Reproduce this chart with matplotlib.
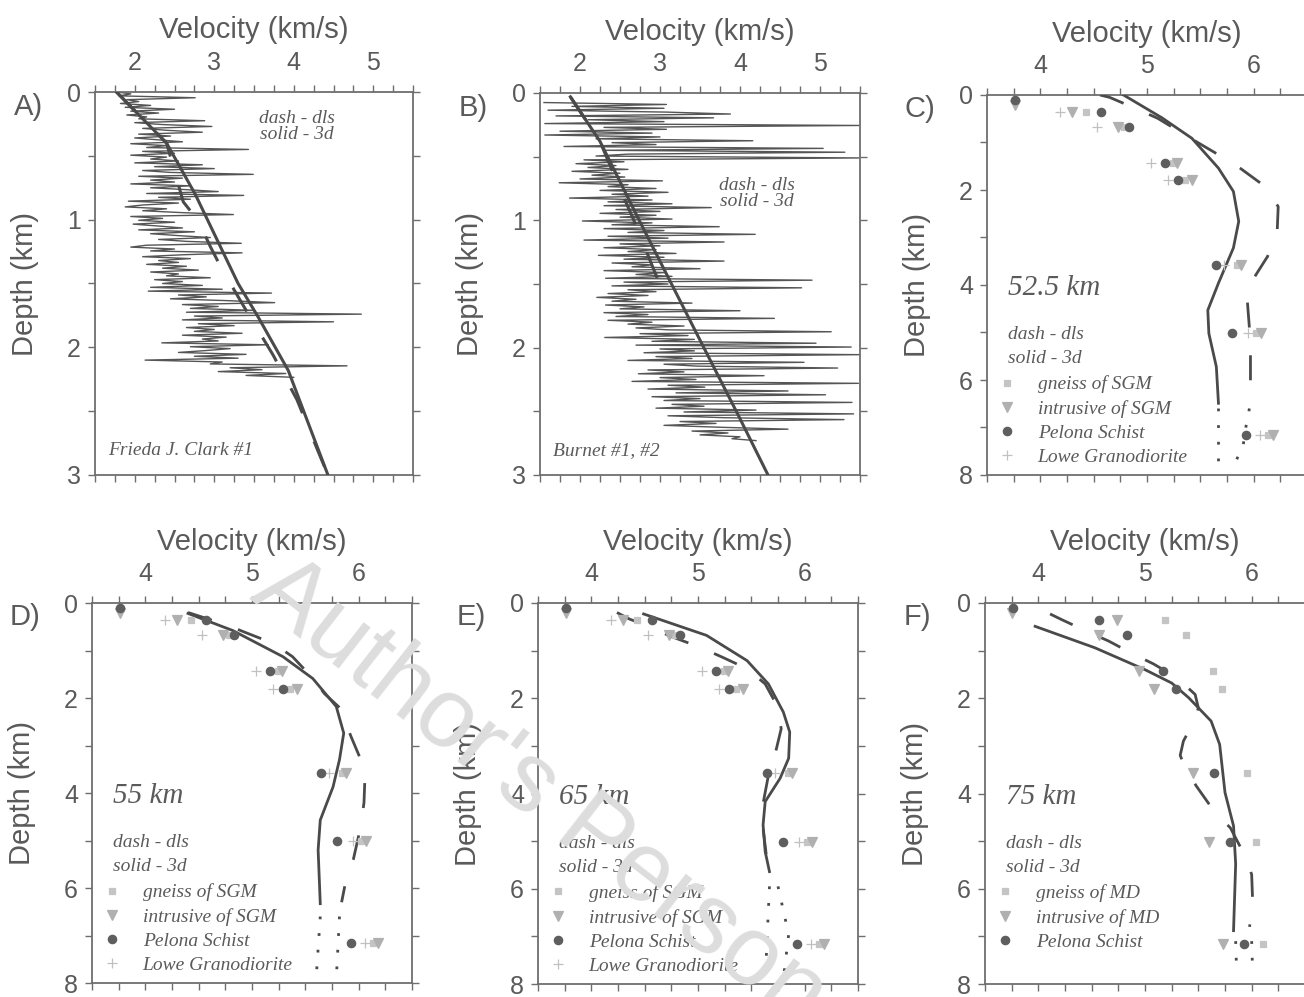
import matplotlib
matplotlib.use("Agg")
import matplotlib.pyplot as plt
import numpy as np
from matplotlib.ticker import MultipleLocator
from matplotlib.lines import Line2D
from matplotlib.font_manager import FontProperties

# ---------------- data (velocity km/s, depth km) ----------------
# sonic logs, regular sampling from a top depth
LOG_STEP = 0.015
log_a_top = 0.0
log_a_v = [1.78, 1.95, 1.80, 2.76, 1.90, 2.05, 1.82, 2.20, 1.88, 2.50,
           1.95, 2.30, 1.90, 2.15, 2.05, 2.88, 2.00, 2.35, 2.97, 2.10,
           2.40, 2.85, 2.05, 2.45, 2.00, 2.30, 2.60, 1.95, 2.40, 2.15,
           3.43, 2.10, 2.50, 1.95, 2.40, 2.20, 2.55, 2.00, 2.85, 2.25,
           3.00, 2.10, 2.45, 3.49, 2.05, 2.60, 2.20, 2.50, 1.95, 2.70,
           2.20, 2.65, 3.05, 2.15, 3.37, 2.30, 2.70, 1.92, 2.55, 2.10,
           1.88, 2.40, 2.10, 2.60, 3.24, 1.95, 2.35, 2.05, 2.50, 1.98,
           2.30, 2.60, 2.05, 2.75, 2.20, 2.55, 2.95, 2.30, 2.65, 3.34,
           2.15, 1.95, 2.50, 2.20, 3.35, 2.60, 2.10, 2.70, 2.30, 2.55,
           2.15, 2.65, 2.35, 2.80, 2.20, 2.55, 2.40, 2.95, 2.25, 2.60,
           2.35, 2.85, 2.20, 3.10, 2.17, 3.72, 2.55, 2.90, 2.45, 3.20,
           3.76, 2.60, 3.05, 2.70, 3.50, 2.65, 4.85, 2.75, 3.10, 2.60,
           4.50, 2.80, 3.25, 2.65, 3.00, 2.75, 3.35, 2.60, 3.15, 2.85,
           3.05, 2.34, 3.68, 2.70, 3.20, 2.90, 2.55, 3.40, 2.75, 3.30,
           2.13, 3.10, 2.95, 4.67, 3.20, 3.60, 3.05, 3.90, 3.40, 4.00]

log_b_top = 0.075
log_b_v = [1.55, 3.08, 1.90, 3.05, 1.60, 3.08, 3.88, 1.70, 3.67, 2.10,
           3.05, 1.56, 5.49, 2.30, 3.08, 1.75, 2.90, 1.56, 3.00, 2.20,
           4.16, 2.40, 2.95, 1.80, 5.04, 2.30, 5.31, 2.60, 2.20, 5.49,
           2.05, 2.55, 1.95, 2.45, 2.10, 2.60, 1.90, 2.50, 2.15, 2.56,
           2.00, 3.03, 1.74, 2.60, 2.35, 2.95, 2.25, 3.10, 2.40, 2.85,
           1.87, 2.90, 2.35, 3.15, 2.30, 3.64, 2.45, 3.00, 2.25, 2.95,
           2.50, 3.15, 2.03, 2.90, 2.40, 3.74, 2.30, 3.05, 2.60, 4.19,
           2.35, 3.10, 2.05, 3.80, 2.50, 3.00, 2.30, 2.95, 2.60, 3.20,
           2.23, 3.05, 2.55, 3.80, 2.40, 2.90, 2.65, 3.50, 2.30, 3.06,
           2.70, 3.15, 2.32, 4.90, 2.55, 3.10, 2.40, 4.77, 2.60, 2.95,
           2.35, 2.85, 2.21, 2.70, 2.40, 3.40, 2.32, 2.80, 2.50, 4.00,
           2.30, 2.85, 2.45, 4.43, 2.35, 2.90, 2.60, 3.30, 2.70, 3.10,
           5.14, 2.75, 3.35, 2.31, 3.43, 2.90, 4.95, 2.70, 5.39, 3.00,
           3.43, 2.80, 5.50, 2.95, 3.40, 2.60, 4.80, 3.05, 3.47, 5.22,
           2.85, 3.30, 2.73, 4.30, 3.00, 3.45, 2.65, 5.48, 3.10, 3.56,
           2.85, 4.60, 3.20, 5.07, 2.90, 3.50, 3.05, 5.40, 3.15, 3.55,
           2.95, 4.20, 3.30, 5.42, 3.10, 3.80, 5.30, 3.25, 3.70, 3.05,
           3.75, 4.60, 3.40, 3.85, 3.50, 4.00, 3.90, 4.20]

# model profiles for the wells
a_3d_d = [0.0, 0.40, 0.80, 1.50, 1.76, 2.18, 3.0]
a_3d_v = [1.77, 2.40, 2.76, 3.30, 3.55, 3.93, 4.43]
a_dls_d = [0.0, 0.40, 0.86, 1.01, 1.21, 1.38, 1.72, 2.06, 2.41, 2.79, 3.0]
a_dls_v = [1.77, 2.40, 2.61, 2.80, 2.95, 3.09, 3.41, 3.74, 4.04, 4.29, 4.43]

b_3d_d = [0.03, 0.38, 1.00, 1.47, 1.99, 2.52, 3.0]
b_3d_v = [1.88, 2.25, 2.74, 3.12, 3.54, 3.97, 4.35]
b_dls_d = [0.03, 0.38, 0.65, 1.01, 1.57]
b_dls_v = [1.88, 2.25, 2.43, 2.68, 3.04]

# profiles at 52.5, 55, 65, 75 km
c_3d_d = [0.0, 0.48, 0.91, 1.54, 2.03, 2.66, 3.22, 3.96, 4.53, 5.02, 5.72, 6.49]
c_3d_v = [4.78, 5.14, 5.42, 5.67, 5.81, 5.86, 5.81, 5.67, 5.57, 5.58, 5.65, 5.67]
c_dls_d = [0.0, 0.05, 0.28, 0.49, 0.90, 1.47, 1.93, 2.35, 2.90, 3.40, 3.93, 4.32, 4.90, 5.50, 6.00, 6.50]
c_dls_v = [4.56, 4.65, 4.89, 5.10, 5.40, 5.83, 6.11, 6.23, 6.22, 6.13, 5.98, 5.94, 5.96, 5.97, 5.97, 5.96]
c_3d_deep_d = [6.6, 7.9]
c_3d_deep_v = [5.67, 5.67]
c_dls_deep_d = [6.6, 6.95, 7.4, 7.72]
c_dls_deep_v = [5.96, 5.93, 5.90, 5.83]

d_3d_d = [0.22, 0.58, 1.13, 1.59, 2.18, 2.74, 3.30, 3.87, 4.57, 5.20, 6.33]
d_3d_v = [4.40, 4.82, 5.29, 5.57, 5.79, 5.86, 5.82, 5.76, 5.64, 5.62, 5.64]
d_dls_d = [0.20, 0.46, 0.64, 0.85, 1.13, 1.56, 1.91, 2.20, 2.82, 3.30, 3.60, 4.20, 4.70, 5.40, 5.96, 6.30]
d_dls_v = [4.40, 4.76, 4.96, 5.20, 5.38, 5.56, 5.68, 5.82, 5.93, 6.02, 6.06, 6.05, 6.02, 5.95, 5.87, 5.84]
d_3d_deep_d = [6.6, 7.95]
d_3d_deep_v = [5.64, 5.60]
d_dls_deep_d = [6.6, 7.93]
d_dls_deep_v = [5.82, 5.79]

e_3d_d = [0.23, 0.68, 1.21, 1.70, 2.29, 2.71, 3.26, 3.68, 4.17, 4.66, 5.22, 5.64]
e_3d_v = [4.49, 5.08, 5.46, 5.66, 5.80, 5.86, 5.85, 5.77, 5.63, 5.61, 5.63, 5.67]
e_dls_d = [0.20, 0.34, 0.52, 0.68, 0.93, 1.14, 1.38, 1.70, 2.15, 2.64, 3.20, 3.62, 4.21, 4.73, 5.29, 5.64]
e_dls_v = [4.24, 4.36, 4.58, 4.72, 5.02, 5.23, 5.46, 5.63, 5.74, 5.78, 5.72, 5.66, 5.61, 5.61, 5.64, 5.69]
e_3d_deep_d = [5.95, 7.94]
e_3d_deep_v = [5.67, 5.63]
e_dls_deep_d = [5.95, 6.96, 7.9]
e_dls_deep_v = [5.75, 5.85, 5.80]

f_3d_d = [0.49, 0.94, 1.40, 1.68, 1.99, 2.48, 2.97, 3.98, 4.68, 5.48, 6.88]
f_3d_v = [3.97, 4.53, 5.00, 5.25, 5.41, 5.62, 5.70, 5.75, 5.83, 5.85, 5.83]
f_dls_d = [0.23, 0.35, 0.58, 0.80, 1.05, 1.28, 1.57, 1.92, 2.20, 2.44, 2.90, 3.20, 3.42, 3.84,
           4.41, 4.72, 5.32, 5.70, 6.31, 6.80]
f_dls_v = [4.11, 4.22, 4.44, 4.66, 4.87, 5.08, 5.30, 5.47, 5.50, 5.47, 5.36, 5.33, 5.37, 5.48,
           5.66, 5.80, 5.94, 6.00, 6.01, 5.98]
f_3d_deep_d = [7.1, 7.8]
f_3d_deep_v = [5.85, 5.86]
f_dls_deep_d = [7.1, 7.8]
f_dls_deep_v = [6.00, 6.01]

# rock sample velocities
pelona_d = [0.1, 0.35, 0.68, 1.43, 1.8, 3.57, 5.02, 7.15]
pelona_v = [3.76, 4.57, 4.83, 5.17, 5.29, 5.65, 5.80, 5.93]
sgm_intr_d = [0.22, 0.35, 0.68, 1.43, 1.8, 3.57, 5.02, 7.15]
sgm_intr_v = [3.76, 4.30, 4.73, 5.28, 5.42, 5.88, 6.07, 6.18]
sgm_gneiss_d = [0.35, 0.68, 1.43, 1.8, 3.57, 5.02, 7.15]
sgm_gneiss_v = [4.43, 4.78, 5.24, 5.36, 5.84, 6.02, 6.13]
lowe_d = [0.35, 0.68, 1.43, 1.8, 3.57, 5.02, 7.15]
lowe_v = [4.18, 4.53, 5.04, 5.20, 5.72, 5.95, 6.06]
md_intr_d = [0.22, 0.35, 0.68, 1.43, 1.8, 3.57, 5.02, 7.15]
md_intr_v = [3.75, 4.74, 4.57, 4.94, 5.08, 5.45, 5.60, 5.73]
md_gneiss_d = [0.35, 0.68, 1.43, 1.8, 3.57, 5.02, 7.15]
md_gneiss_v = [5.19, 5.38, 5.64, 5.72, 5.96, 6.04, 6.11]

# ---------------- style ----------------
TXT = "#5a5a5a"
SPINE = "#6e6e6e"
LINE = "#4a4a4a"
TRACE = "#555555"
DOT = "#5e5e5e"
TRI = "#b0b0b0"
SQR = "#c4c4c4"
PLUS = "#c0c0c0"
DASH = (0, (9, 10))
DOTS = (0, (1, 5))

plt.rcParams['font.family'] = ['Liberation Sans', 'DejaVu Sans']
serif_it = FontProperties(family='Liberation Serif', style='italic', size=14)
serif_big = FontProperties(family='Liberation Serif', style='italic', size=21)

W, H = 1304, 997
fig = plt.figure(figsize=(W / 100, H / 100), dpi=100)


def add_ax(x0, y0, w, h):
    return fig.add_axes([x0 / W, 1 - (y0 + h) / H, w / W, h / H])


def setup(ax, xlim, ymax, ymajor, yminor, letter):
    ax.set_xlim(*xlim)
    ax.set_ylim(ymax, 0)
    ax.xaxis.set_major_locator(MultipleLocator(1))
    ax.xaxis.set_minor_locator(MultipleLocator(0.25))
    ax.yaxis.set_major_locator(MultipleLocator(ymajor))
    ax.yaxis.set_minor_locator(MultipleLocator(yminor))
    ax.tick_params(which='both', direction='out', length=5, width=1.0, color=SPINE,
                   top=True, bottom=True, left=True, right=True,
                   labeltop=True, labelbottom=False, labelsize=18, labelcolor=TXT)
    ax.tick_params(axis='x', which='both', pad=7)
    ax.tick_params(axis='y', which='both', pad=5)
    ax.xaxis.set_label_position('top')
    ax.set_xlabel('Velocity (km/s)', fontsize=21, color=TXT)
    ax.xaxis.set_label_coords(0.5, 1.14)
    ax.set_ylabel('Depth (km)', fontsize=21, color=TXT)
    ax.yaxis.set_label_coords(-0.175, 0.5)
    for s in ax.spines.values():
        s.set_color(SPINE)
        s.set_linewidth(1.3)
    ax.text(-0.21, 0.962, letter + ')', transform=ax.transAxes, fontsize=21,
            color=TXT, ha='center', va='center')


def well_panel(ax, top, vals, d3, v3, dd, vd, letter, name, note_xy):
    depth = top + LOG_STEP * np.arange(len(vals))
    ax.plot(vals, depth, color=TRACE, lw=1.0, zorder=2)
    ax.plot(vd, dd, color=LINE, lw=2.2, ls=DASH, zorder=3)
    ax.plot(v3, d3, color=LINE, lw=2.2, zorder=4)
    setup(ax, (1.5, 5.5), 3, 1, 0.5, letter)
    nx, ny = note_xy
    ax.text(nx, ny, 'dash - dls', transform=ax.transAxes, fontproperties=serif_it,
            color=TXT, ha='center', va='center')
    ax.text(nx, ny - 0.042, 'solid - 3d', transform=ax.transAxes, fontproperties=serif_it,
            color=TXT, ha='center', va='center')
    ax.text(0.04, 0.065, name, transform=ax.transAxes, fontproperties=serif_it,
            color=TXT, ha='left', va='center')


def profile_panel(ax, prof, samples, letter, dist):
    d3, v3, dd, vd, d3x, v3x, ddx, vdx = prof
    ax.plot(vd, dd, color=LINE, lw=2.0, ls=DASH, zorder=3)
    ax.plot(v3, d3, color=LINE, lw=2.0, zorder=4)
    ax.plot(v3x, d3x, color=LINE, lw=2.0, ls=DOTS, zorder=3)
    ax.plot(vdx, ddx, color=LINE, lw=2.0, ls=DOTS, zorder=3)
    handles, labels = [], []
    for (sd, sv, mk, col, ms, lab, z) in samples:
        ax.plot(sv, sd, ls='none', marker=mk, ms=ms, color=col, mew=0.9, zorder=z)
        handles.append(Line2D([], [], ls='none', marker=mk, ms=ms, color=col, mew=0.9))
        labels.append(lab)
    setup(ax, (3.5, 6.5), 8, 2, 1, letter)
    ax.text(0.066, 0.492, dist, transform=ax.transAxes, fontproperties=serif_big,
            color=TXT, ha='left', va='center')
    ax.text(0.066, 0.370, 'dash - dls', transform=ax.transAxes, fontproperties=serif_it,
            color=TXT, ha='left', va='center')
    ax.text(0.066, 0.306, 'solid - 3d', transform=ax.transAxes, fontproperties=serif_it,
            color=TXT, ha='left', va='center')
    ax.legend(handles, labels, loc='upper left', bbox_to_anchor=(0.037, 0.262),
              frameon=False, prop=serif_it, labelcolor=TXT, handlelength=0.8,
              handletextpad=1.2, labelspacing=0.34, borderpad=0, borderaxespad=0)


ax_a = add_ax(95, 92, 318, 383)
ax_b = add_ax(540, 93, 320, 382)
ax_c = add_ax(987, 95, 320, 380)
ax_d = add_ax(92, 603, 320, 380)
ax_e = add_ax(538, 603, 320, 381)
ax_f = add_ax(985, 603, 320, 381)

well_panel(ax_a, log_a_top, log_a_v, a_3d_d, a_3d_v, a_dls_d, a_dls_v, 'A',
           'Frieda J. Clark #1', (0.635, 0.932))
well_panel(ax_b, log_b_top, log_b_v, b_3d_d, b_3d_v, b_dls_d, b_dls_v, 'B',
           'Burnet #1, #2', (0.678, 0.759))

sgm_samples = [
    (sgm_gneiss_d, sgm_gneiss_v, 's', SQR, 5, 'gneiss of SGM', 5),
    (sgm_intr_d, sgm_intr_v, 'v', TRI, 6.5, 'intrusive of SGM', 6),
    (pelona_d, pelona_v, 'o', DOT, 6, 'Pelona Schist', 7),
    (lowe_d, lowe_v, '+', PLUS, 7, 'Lowe Granodiorite', 5),
]
md_samples = [
    (md_gneiss_d, md_gneiss_v, 's', SQR, 5, 'gneiss of MD', 5),
    (md_intr_d, md_intr_v, 'v', TRI, 6.5, 'intrusive of MD', 6),
    (pelona_d, pelona_v, 'o', DOT, 6, 'Pelona Schist', 7),
]

profile_panel(ax_c, (c_3d_d, c_3d_v, c_dls_d, c_dls_v, c_3d_deep_d, c_3d_deep_v,
                     c_dls_deep_d, c_dls_deep_v), sgm_samples, 'C', '52.5 km')
profile_panel(ax_d, (d_3d_d, d_3d_v, d_dls_d, d_dls_v, d_3d_deep_d, d_3d_deep_v,
                     d_dls_deep_d, d_dls_deep_v), sgm_samples, 'D', '55 km')
profile_panel(ax_e, (e_3d_d, e_3d_v, e_dls_d, e_dls_v, e_3d_deep_d, e_3d_deep_v,
                     e_dls_deep_d, e_dls_deep_v), sgm_samples, 'E', '65 km')
profile_panel(ax_f, (f_3d_d, f_3d_v, f_dls_d, f_dls_v, f_3d_deep_d, f_3d_deep_v,
                     f_dls_deep_d, f_dls_deep_v), md_samples, 'F', '75 km')

# watermark over the scan
fig.text(248 / W, 1 - 598 / H, "Author's Personal Copy", fontsize=71, color='#dddddd',
         rotation=-38, rotation_mode='anchor', ha='left', va='baseline', zorder=50)

fig.savefig('out.png', dpi=100)
